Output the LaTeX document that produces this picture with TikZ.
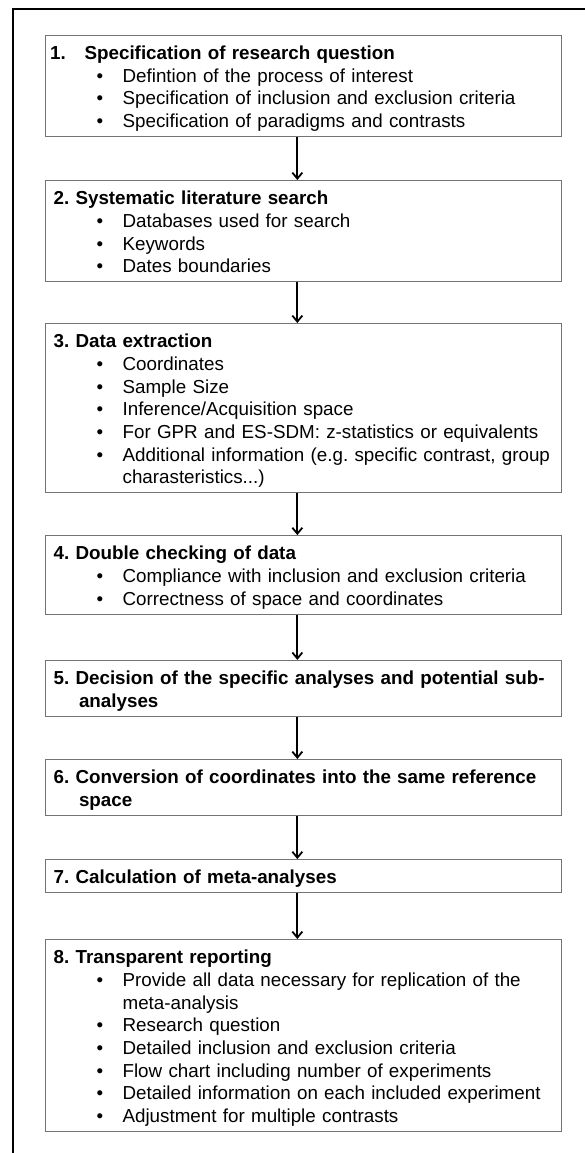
\documentclass[tikz,border=0pt]{standalone}
\usepackage{fontspec}
\setmainfont{Liberation Sans}
\usetikzlibrary{positioning,arrows.meta}

\newcommand{\topln}{\rule{0pt}{24pt}\hspace*{2pt}}
\newcommand{\botln}{\rule[-9pt]{0pt}{9pt}\par}
\newcommand{\nl}{\hfil\break}
\newcommand{\hd}[1]{\topln\textbf{#1}}
\newcommand{\itm}[1]{\par\leftskip=71pt\noindent\llap{\textbullet\hspace{19.4pt}}#1}

\begin{document}
\frenchspacing
\begin{tikzpicture}[x=1pt,y=1pt,->,>={Straight Barb[length=6pt,width=10pt]},node distance=42.7pt,font=\fontsize{18.8}{22.7}\selectfont]
  \tikzstyle{stage}=[draw=black!55,line width=1.2pt,rectangle,inner xsep=6.5pt,inner ysep=0pt,text width=503.5pt,align=left]
  \tikzstyle{flow}=[draw=black,line width=1.8pt]

  \useasboundingbox (0,0) rectangle (585,-1153);
  \draw[-,line width=1.6pt] (13,-1153) |- (585,-9);

  \node[stage,anchor=north west] (s1) at (44.5,-35) {\hd{\hspace*{-3.4pt}\makebox[34.4pt][l]{1.}Specification of research question}
    \itm{Defintion of the process of interest}
    \itm{Specification of inclusion and exclusion criteria}
    \itm{Specification of paradigms and contrasts\botln}};
  \node[stage] (s2) [below=of s1] {\hd{2. Systematic literature search}
    \itm{Databases used for search}
    \itm{Keywords}
    \itm{Dates boundaries\botln}};
  \node[stage] (s3) [below=40.7pt of s2] {\hd{3. Data extraction}
    \itm{Coordinates}
    \itm{Sample Size}
    \itm{Inference/Acquisition space}
    \itm{For GPR and ES-SDM: z-statistics or equivalents}
    \itm{Additional information (e.g. specific contrast, group\nl charasteristics...)\botln}};
  \node[stage] (s4) [below=41.7pt of s3] {\hd{4. Double checking of data}
    \itm{Compliance with inclusion and exclusion criteria}
    \itm{Correctness of space and coordinates\botln}};
  \node[stage] (s5) [below=45.2pt of s4] {\hangindent=27.4pt\hangafter=1\hd{5. Decision of the specific analyses and potential sub-\nl analyses\botln}};
  \node[stage] (s6) [below=42.2pt of s5] {\hangindent=27.4pt\hangafter=1\hd{6. Conversion of coordinates into the same reference\nl space\botln}};
  \node[stage] (s7) [below=43.2pt of s6] {\hd{7. Calculation of meta-analyses\botln}};
  \node[stage] (s8) [below=45.7pt of s7] {\hd{8. Transparent reporting}
    \itm{Provide all data necessary for replication of the\nl meta-analysis}
    \itm{Research question}
    \itm{Detailed inclusion and exclusion criteria}
    \itm{Flow chart including number of experiments}
    \itm{Detailed information on each included experiment}
    \itm{Adjustment for multiple contrasts\botln}};

  \draw[flow] ([xshift=-6pt]s1.south) -- ([xshift=-6pt]s2.north);
  \draw[flow] ([xshift=-6pt]s2.south) -- ([xshift=-6pt]s3.north);
  \draw[flow] ([xshift=-6pt]s3.south) -- ([xshift=-6pt]s4.north);
  \draw[flow] ([xshift=-6pt]s4.south) -- ([xshift=-6pt]s5.north);
  \draw[flow] ([xshift=-6pt]s5.south) -- ([xshift=-6pt]s6.north);
  \draw[flow] ([xshift=-6pt]s6.south) -- ([xshift=-6pt]s7.north);
  \draw[flow] ([xshift=-6pt]s7.south) -- ([xshift=-6pt]s8.north);

\end{tikzpicture}
\end{document}
